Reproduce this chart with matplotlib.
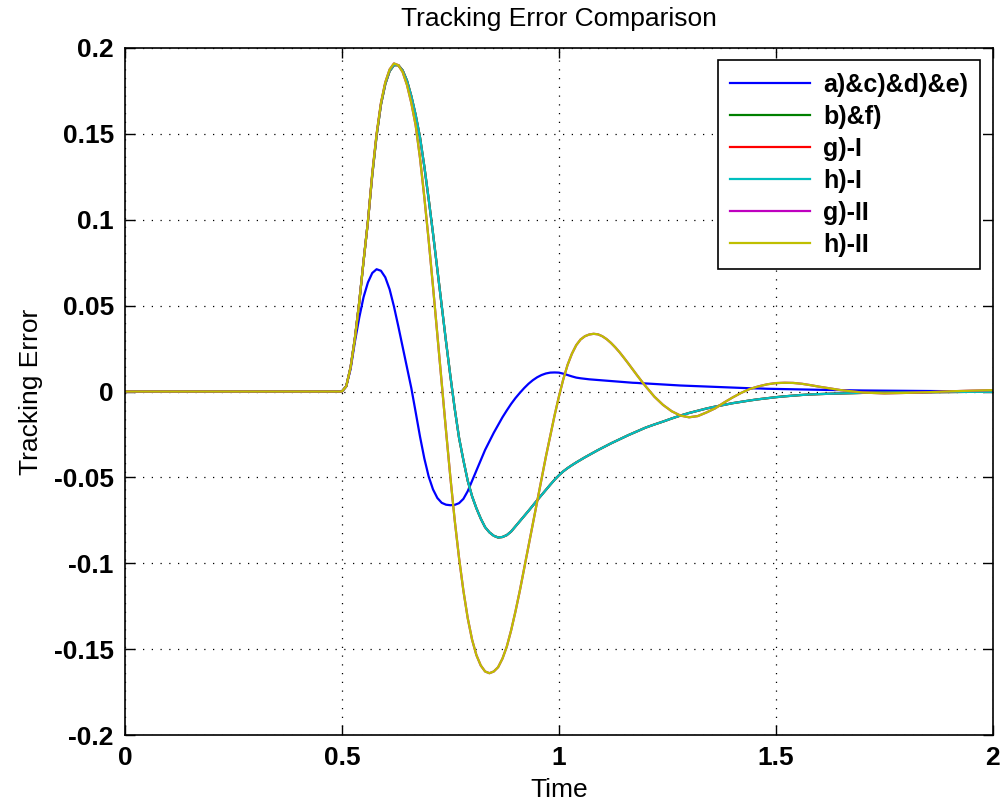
import numpy as np
import matplotlib
matplotlib.use("Agg")
import matplotlib.pyplot as plt

# time samples (x positions of the read-off values)
t = np.concatenate([[0.0],
                    np.round(np.arange(0.50, 1.2001, 0.01), 2),
                    np.round(np.arange(1.22, 1.6001, 0.02), 2),
                    np.round(np.arange(1.65, 2.0001, 0.05), 2)])

# a)&c)&d)&e)
err_a = [0.0,
         0.0, 0.003, 0.013, 0.029, 0.043, 0.055, 0.0635, 0.069, 0.0712, 0.0703,
         0.0665, 0.0595, 0.0495, 0.038, 0.026, 0.014, 0.002, -0.012, -0.0262, -0.039,
         -0.0495, -0.057, -0.062, -0.0648, -0.0659, -0.0662, -0.066, -0.065, -0.0625, -0.058,
         -0.052, -0.046, -0.040, -0.034, -0.029, -0.024, -0.0195, -0.015, -0.011, -0.0072,
         -0.0038, -0.0008, 0.002, 0.0045, 0.0066, 0.0083, 0.0096, 0.0105, 0.011, 0.0111,
         0.011, 0.0104, 0.0096, 0.0088, 0.0081, 0.0077, 0.0074, 0.0071, 0.0069, 0.0067,
         0.0065, 0.0063, 0.0061, 0.0059, 0.0057, 0.0055, 0.0053, 0.0051, 0.005, 0.0048,
         0.0047,
         0.0044, 0.0041, 0.0038, 0.0035, 0.0033, 0.0031, 0.0029, 0.0027, 0.0025, 0.0023,
         0.0021, 0.0019, 0.0018, 0.0016, 0.0015, 0.0014, 0.0013, 0.0012, 0.0011, 0.001,
         0.0008, 0.0006, 0.0005, 0.0004, 0.0003, 0.0002, 0.0002, 0.0001]

# b)&f), g)-I, h)-I
err_b = [0.0,
         0.0, 0.003, 0.014, 0.031, 0.052, 0.076, 0.099, 0.126, 0.149, 0.167,
         0.179, 0.1865, 0.190, 0.190, 0.187, 0.181, 0.172, 0.161, 0.148, 0.131,
         0.112, 0.092, 0.071, 0.050, 0.029, 0.009, -0.010, -0.027, -0.040, -0.052,
         -0.061, -0.068, -0.074, -0.079, -0.082, -0.084, -0.085, -0.0847, -0.0836, -0.0815,
         -0.0785, -0.0755, -0.0725, -0.0695, -0.0664, -0.0633, -0.0603, -0.0573, -0.0543, -0.0514,
         -0.0488, -0.0465, -0.0446, -0.0429, -0.0413, -0.0398, -0.0383, -0.0369, -0.0355, -0.0341,
         -0.0328, -0.0315, -0.0302, -0.029, -0.0278, -0.0266, -0.0254, -0.0243, -0.0232, -0.0221,
         -0.021,
         -0.0192, -0.0175, -0.0157, -0.014, -0.0125, -0.0112, -0.0099, -0.0088, -0.0078, -0.0068,
         -0.006, -0.0052, -0.0045, -0.0039, -0.0033, -0.0028, -0.0024, -0.002, -0.0017, -0.0015,
         -0.0011, -0.0008, -0.0006, -0.0005, -0.0004, -0.0003, -0.0002, -0.0002]

# g)-II, h)-II
err_g2 = [0.0,
          0.0, 0.003, 0.014, 0.031, 0.052, 0.076, 0.099, 0.127, 0.150, 0.168,
          0.180, 0.1875, 0.191, 0.190, 0.186, 0.1785, 0.168, 0.155, 0.136, 0.113,
          0.088, 0.061, 0.033, 0.005, -0.023, -0.050, -0.075, -0.097, -0.116, -0.132,
          -0.1445, -0.1535, -0.1595, -0.163, -0.164, -0.163, -0.1605, -0.1555, -0.1485, -0.139,
          -0.128, -0.116, -0.103, -0.090, -0.077, -0.064, -0.051, -0.038, -0.026, -0.014,
          -0.003, 0.007, 0.0155, 0.022, 0.027, 0.0303, 0.0322, 0.0332, 0.0336, 0.0333,
          0.0322, 0.0305, 0.0283, 0.0257, 0.0228, 0.0196, 0.0163, 0.0129, 0.0095, 0.0062,
          0.003,
          -0.003, -0.0078, -0.0115, -0.014, -0.015, -0.0143, -0.0122, -0.0098, -0.0065, -0.0035,
          -0.0008, 0.0015, 0.003, 0.0042, 0.0049, 0.0051, 0.005, 0.0045, 0.0037, 0.0028,
          0.0008, -0.0006, -0.0011, -0.0008, -0.0004, 0.0001, 0.0005, 0.0008]

labels = ['a)&c)&d)&e)', 'b)&f)', 'g)-I', 'h)-I', 'g)-II', 'h)-II']
colors = ['#0000ff', '#008000', '#ff0000', '#00bfbf', '#bf00bf', '#bfbf00']
series = [err_a, err_b, err_b, err_b, err_g2, err_g2]

plt.rcParams['font.family'] = ['Liberation Sans', 'DejaVu Sans']

fig = plt.figure(figsize=(10.07, 8.08), dpi=100)
ax = fig.add_axes([0.124, 0.0903, 0.862, 0.8503])

for y, c, lab in zip(series, colors, labels):
    ax.plot(t, y, color=c, lw=1.6, label=lab)

ax.set_xlim(0, 2)
ax.set_ylim(-0.2, 0.2)
ax.set_xticks([0, 0.5, 1, 1.5, 2])
ax.set_xticklabels(['0', '0.5', '1', '1.5', '2'])
ax.set_yticks([-0.2, -0.15, -0.1, -0.05, 0, 0.05, 0.1, 0.15, 0.2])
ax.set_yticklabels(['-0.2', '-0.15', '-0.1', '-0.05', '0', '0.05', '0.1', '0.15', '0.2'])
ax.tick_params(direction='in', length=7, width=1, top=True, right=True,
               labelsize=19, pad=8)
for lab in ax.get_xticklabels() + ax.get_yticklabels():
    lab.set_fontweight('bold')
for s in ax.spines.values():
    s.set_linewidth(1.2)

ax.grid(True, color='black', linestyle=(0, (1, 6)), linewidth=0.9)

ax.set_title('Tracking Error Comparison', fontsize=19, pad=16)
ax.set_xlabel('Time', fontsize=19, labelpad=6)
ax.set_ylabel('Tracking Error', fontsize=19, labelpad=8)

leg = ax.legend(loc='upper right', prop={'weight': 'bold', 'size': 18},
                fancybox=False, edgecolor='black', framealpha=1,
                handlelength=3.2, handletextpad=0.5, borderaxespad=0.5,
                labelspacing=0.32, borderpad=0.5)
leg.get_frame().set_linewidth(1.2)

fig.savefig('out.png', dpi=100)
